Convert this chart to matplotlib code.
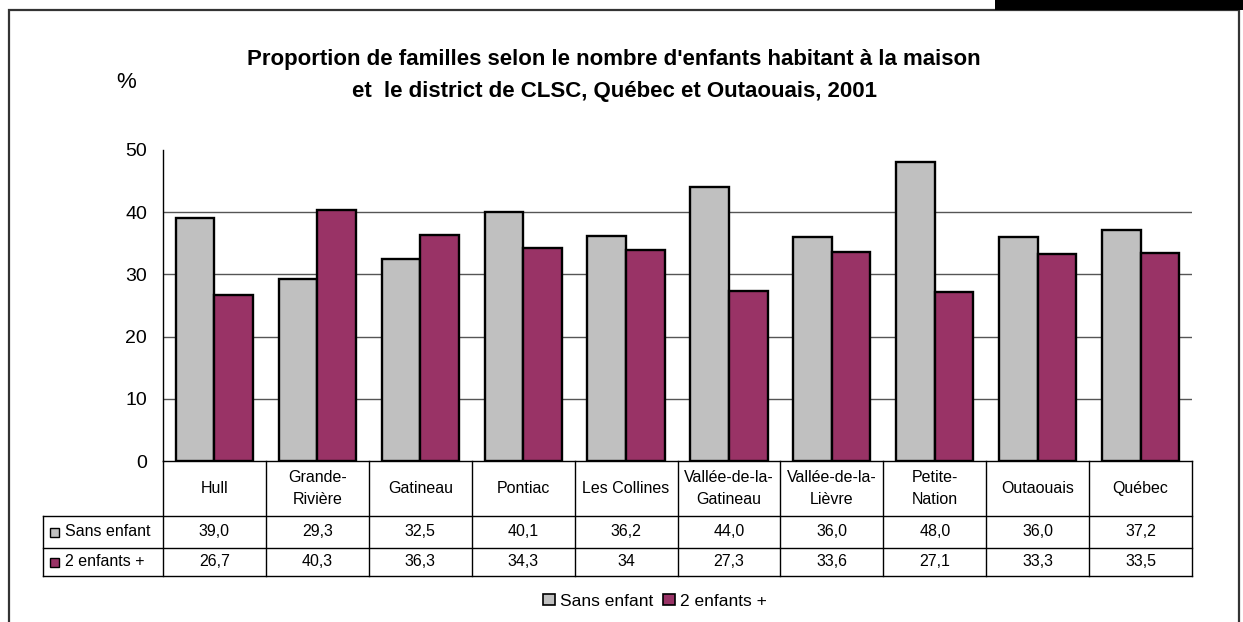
import matplotlib
matplotlib.use("Agg")
import matplotlib.pyplot as plt
from matplotlib.patches import Rectangle
from matplotlib.lines import Line2D

plt.rcParams['font.family'] = ['Liberation Sans', 'DejaVu Sans']

categories = ["Hull", "Grande-\nRivière", "Gatineau", "Pontiac", "Les Collines",
              "Vallée-de-la-\nGatineau", "Vallée-de-la-\nLièvre", "Petite-\nNation",
              "Outaouais", "Québec"]
sans_enfant = [39.0, 29.3, 32.5, 40.1, 36.2, 44.0, 36.0, 48.0, 36.0, 37.2]
deux_enfants = [26.7, 40.3, 36.3, 34.3, 34.0, 27.3, 33.6, 27.1, 33.3, 33.5]
sans_labels = ["39,0", "29,3", "32,5", "40,1", "36,2", "44,0", "36,0", "48,0", "36,0", "37,2"]
deux_labels = ["26,7", "40,3", "36,3", "34,3", "34", "27,3", "33,6", "27,1", "33,3", "33,5"]
series_names = ["Sans enfant", "2 enfants +"]
yticks = [0, 10, 20, 30, 40, 50]

GREY = "#C0C0C0"
PURPLE = "#993366"

W, H = 1243, 622
fig = plt.figure(figsize=(W / 100, H / 100), dpi=100)

def fx(px):
    return px / W

def fy(py):
    return 1 - py / H

# outer frame and black tab
fig.add_artist(Rectangle((fx(9), fy(640)), fx(1239 - 9), (640 - 10) / H,
                         transform=fig.transFigure, fill=False, lw=1.6, ec="#333333"))
fig.add_artist(Rectangle((fx(995), fy(10)), fx(W - 995), 10 / H,
                         transform=fig.transFigure, fc="black", ec="black", lw=0))

# main plot
L, R, T, B = 163, 1192, 150, 461
ax = fig.add_axes([fx(L), fy(B), fx(R - L), (B - T) / H])
n = len(categories)
bw = 0.375
xs = list(range(n))
ax.bar([x - bw / 2 for x in xs], sans_enfant, bw, color=GREY, edgecolor="black", lw=1.7, zorder=3)
ax.bar([x + bw / 2 for x in xs], deux_enfants, bw, color=PURPLE, edgecolor="black", lw=1.7, zorder=3)
ax.set_xlim(-0.5, n - 0.5)
ax.set_ylim(0, 50)
ax.set_yticks(yticks)
ax.set_yticklabels([str(t) for t in yticks], fontsize=14)
for t in yticks[1:-1]:
    ax.axhline(t, color="#555555", lw=1.0, zorder=1)
ax.set_xticks([])
for s in ["top", "right", "bottom"]:
    ax.spines[s].set_visible(False)
ax.spines["left"].set_linewidth(1.0)
ax.tick_params(axis="y", length=0, pad=11.5)

# table
TL = 43
rows_y = [461, 516, 548, 576]
cw = (R - L) / n
tline = dict(color="black", lw=1.0)
def hline(y, x0, x1):
    fig.add_artist(Line2D([fx(x0), fx(x1)], [fy(y), fy(y)], transform=fig.transFigure, **tline))
def vline(x, y0, y1):
    fig.add_artist(Line2D([fx(x), fx(x)], [fy(y0), fy(y1)], transform=fig.transFigure, **tline))

hline(461, L, R)
hline(516, TL, R)
hline(548, TL, R)
hline(576, TL, R)
vline(TL, 516, 576)
for k in range(n + 1):
    vline(L + k * cw, 461, 576)

TFS = 11.5
for k, cat in enumerate(categories):
    cx = L + (k + 0.5) * cw
    fig.text(fx(cx), fy((461 + 516) / 2), cat, ha="center", va="center", fontsize=TFS,
             linespacing=1.5)
    fig.text(fx(cx), fy((516 + 548) / 2), sans_labels[k], ha="center", va="center", fontsize=TFS)
    fig.text(fx(cx), fy((548 + 576) / 2), deux_labels[k], ha="center", va="center", fontsize=TFS)

for i, (name, col) in enumerate(zip(series_names, [GREY, PURPLE])):
    yc = (rows_y[i + 1] + rows_y[i + 2]) / 2
    fig.add_artist(Rectangle((fx(50), fy(yc + 4.5)), fx(9), 9 / H, transform=fig.transFigure,
                             fc=col, ec="black", lw=1.0))
    fig.text(fx(65), fy(yc), name, ha="left", va="center", fontsize=TFS)

# legend
handles = [Rectangle((0, 0), 1, 1, fc=GREY, ec="black", lw=1.2),
           Rectangle((0, 0), 1, 1, fc=PURPLE, ec="black", lw=1.2)]
fig.legend(handles, series_names, loc="center", bbox_to_anchor=(fx(655), fy(601)),
           ncol=2, frameon=False, fontsize=12.5, handlelength=0.65, handleheight=0.65,
           handletextpad=0.3, columnspacing=0.6)

# title and unit
fig.text(fx(614), fy(59), "Proportion de familles selon le nombre d'enfants habitant à la maison",
         ha="center", va="center", fontsize=16, fontweight="bold")
fig.text(fx(614), fy(91), "et  le district de CLSC, Québec et Outaouais, 2001",
         ha="center", va="center", fontsize=16, fontweight="bold")
fig.text(fx(126), fy(82), "%", ha="center", va="center", fontsize=16)

fig.savefig("out.png", dpi=100)
